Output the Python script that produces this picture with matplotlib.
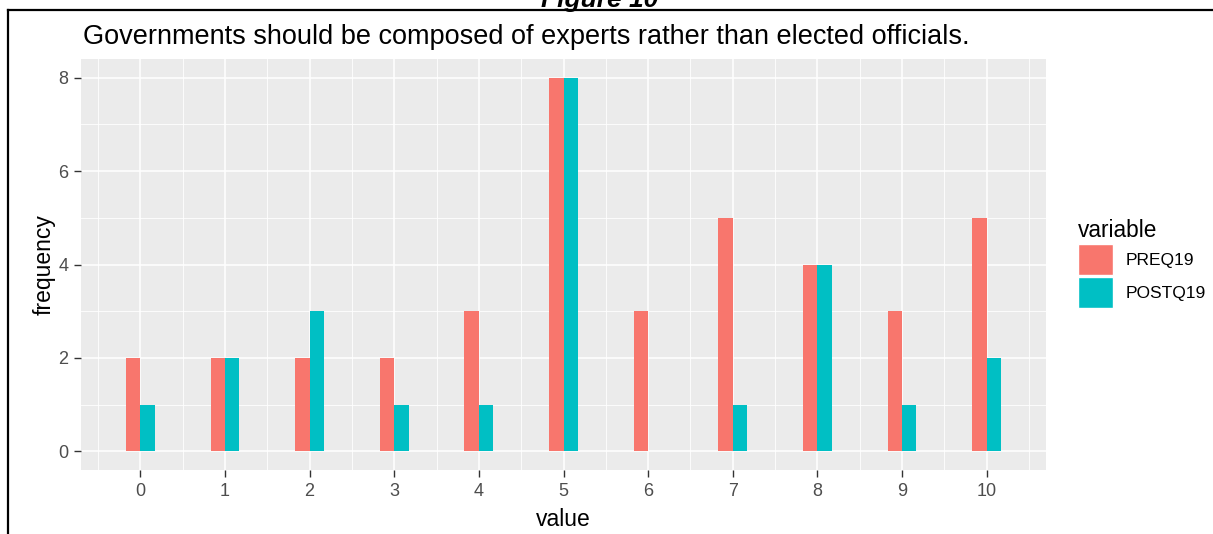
import matplotlib.pyplot as plt
from matplotlib.patches import Patch
from matplotlib.lines import Line2D
import numpy as np

# data
values = [0, 1, 2, 3, 4, 5, 6, 7, 8, 9, 10]
preq19 = [2, 2, 2, 2, 3, 8, 3, 5, 4, 3, 5]
postq19 = [1, 2, 3, 1, 1, 8, 0, 1, 4, 1, 2]
series_names = ['PREQ19', 'POSTQ19']
series_colors = ['#F8766D', '#00BFC4']

plt.rcParams['font.family'] = ['Liberation Sans', 'DejaVu Sans']

W, H = 1213, 534
fig = plt.figure(figsize=(W / 100, H / 100), dpi=100)
ax = fig.add_axes([81 / W, 1 - 470 / H, (1046 - 81) / W, (470 - 59) / H])
ax.set_facecolor('#EBEBEB')

bw = 0.17
x = np.array(values)
ax.bar(x - bw / 2, preq19, width=bw, color=series_colors[0], zorder=3)
ax.bar(x + bw / 2, postq19, width=bw, color=series_colors[1], zorder=3)

ax.set_xlim(-0.7, 10.7)
ax.set_ylim(-0.4, 8.4)
ax.set_xticks(values)
ax.set_yticks([0, 2, 4, 6, 8])
ax.set_xticks(np.arange(-0.5, 11, 1), minor=True)
ax.set_yticks([1, 3, 5, 7], minor=True)
ax.grid(which='major', color='white', linewidth=1.1, zorder=1)
ax.grid(which='minor', color='white', linewidth=0.6, zorder=1)
ax.set_axisbelow(True)
ax.tick_params(which='major', length=5, width=1, color='#333333',
               labelsize=13, labelcolor='#4D4D4D', pad=4)
ax.tick_params(which='minor', length=0)
for s in ax.spines.values():
    s.set_visible(False)

ax.set_xlabel('value', fontsize=16.5, labelpad=6)
ax.set_ylabel('frequency', fontsize=16.5, labelpad=2)

fig.text(83 / W, 1 - 37 / H, 'Governments should be composed of experts rather than elected officials.',
         fontsize=19.5, ha='left', va='center')

handles = [Patch(facecolor=c, edgecolor='white', linewidth=1) for c in series_colors]
leg = fig.legend(handles, series_names, title='variable', loc='upper left',
                 bbox_to_anchor=(1064 / W, 1 - 205 / H), frameon=False,
                 fontsize=12.5, title_fontsize=16.3, handlelength=2.0, handleheight=2.4,
                 labelspacing=0.1, handletextpad=0.75, borderpad=0.3)
leg._legend_box.align = 'left'

# cut-off caption and page frame from the source document
fig.text(600 / W, 1 - 7 / H, 'Figure 10', fontsize=19, fontweight='bold', fontstyle='italic',
         ha='center', va='baseline')
fig.add_artist(Line2D([8 / W, 8 / W], [0, 1 - 10 / H], color='black', linewidth=1.6))
fig.add_artist(Line2D([8 / W, 1], [1 - 10 / H, 1 - 10 / H], color='black', linewidth=1.6))

fig.savefig('out.png', dpi=100)
